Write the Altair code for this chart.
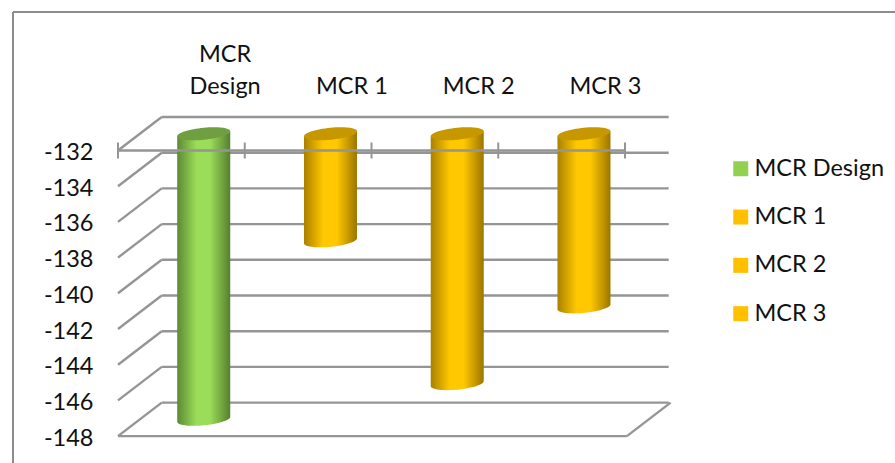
import math
import altair as alt
import pandas as pd

# Chart values
categories = ["MCR Design", "MCR 1", "MCR 2", "MCR 3"]
values = [-148.0, -138.0, -146.0, -141.7]
tick_values = [-132, -134, -136, -138, -140, -142, -144, -146, -148]

# Colours
GRID = "#959595"
GREEN = "#92D050"
AMBER = "#FFC000"
INK = "#111111"
FONT = "Lato"
SIZE = 23.5
LINE = 2.4

W, H = 895, 463
# Pixel scale of the oblique projection
PX_X = 126.75   # one category slot
PX_Y = 17.85    # one value unit
X0, Y0 = 118.0, 150.5  # front corner at the top of the value axis
DX = 43.7 / PX_X       # depth of the box in x units
DY = 33.5 / PX_Y       # depth of the box in y units
TOP = -132

x_scale = alt.Scale(domain=[-X0 / PX_X, (W - X0) / PX_X], nice=False, zero=False)
y_scale = alt.Scale(domain=[TOP - (H - Y0) / PX_Y, TOP + Y0 / PX_Y], nice=False, zero=False)
X = alt.X("x:Q", scale=x_scale, axis=None)
# Value axis: labels only, pulled inside the full-size view
Y = alt.Y("y:Q", scale=y_scale, axis=alt.Axis(
    values=tick_values, offset=-X0, domain=False, ticks=False, grid=False, title=None,
    labelFont=FONT, labelFontSize=SIZE, labelColor=INK, labelPadding=25,
    labelBaseline="middle", labelOffset=2, labelExpr="'-' + abs(datum.value)",
))


def hgrad(edge_l, mid, edge_r):
    return alt.Gradient(
        gradient="linear", x1=0, x2=1, y1=0, y2=0,
        stops=[
            alt.GradientStop(offset=0, color=edge_l),
            alt.GradientStop(offset=0.36, color=mid),
            alt.GradientStop(offset=0.62, color=mid),
            alt.GradientStop(offset=1, color=edge_r),
        ],
    )


# Back wall gridlines, the diagonal floor lines and the front floor edge
back = pd.DataFrame({"y": tick_values, "x": DX, "x2": 4.0 + DX})
back["y"] = back["y"] + DY
walls = alt.Chart(back).mark_rule(color=GRID, strokeWidth=LINE).encode(x=X, x2="x2:Q", y=Y)

diag = pd.DataFrame({"x": 0.0, "x2": DX, "y": tick_values})
diag["y2"] = diag["y"] + DY
diagonals = alt.Chart(diag).mark_rule(color=GRID, strokeWidth=LINE).encode(x=X, x2="x2:Q", y=Y, y2="y2:Q")

floor_edge = alt.Chart(pd.DataFrame({
    "x": [0.0, 4.015], "x2": [4.015, 4.015 + DX], "y": [-148.0, -148.0], "y2": [-148.0, -148.0 + DY],
})).mark_rule(color=GRID, strokeWidth=LINE).encode(x=X, x2="x2:Q", y=Y, y2="y2:Q")

# Cylinders: straight body with a rounded lower rim, capped by a sheared ellipse
RX = 26.5 / PX_X
RIM_B = 6.0 / PX_Y
RIM_S = 2.5 / PX_Y
NUDGE = 0.5 / PX_X
STEPS = 24
rows = []
for i, (name, v) in enumerate(zip(categories, values)):
    cx = i + 0.5 + DX / 2 + NUDGE
    top_c = TOP + DY / 2
    low_c = v + DY / 2
    for k in range(STEPS + 1):
        t = math.pi * k / STEPS
        c, s = math.cos(t), math.sin(t)
        rows.append({
            "name": name,
            "x": cx - RX * c,
            "y": top_c - RIM_S * c,
            "y2": low_c - RIM_S * c - RIM_B * s,
        })
body = pd.DataFrame(rows)


def cylinder(names, fill):
    return (
        alt.Chart(body[body["name"].isin(names)])
        .mark_area(color=fill, interpolate="linear", orient="vertical")
        .encode(x=X, y=Y, y2="y2:Q", detail="name:N")
    )


body_green = cylinder(["MCR Design"], hgrad("#5c8a33", "#9bdc58", "#567f30"))
body_amber = cylinder(["MCR 1", "MCR 2", "MCR 3"], hgrad("#aa8000", "#ffc800", "#9c7500"))


def ellipse_path(b, s):
    # Sheared ellipse in the unit square, as four cubic segments
    k = 0.5523
    pts = lambda c, d: (c, b * d - s * c)
    seq = [
        ((1, k), (k, 1), (0, 1)),
        ((-k, 1), (-1, k), (-1, 0)),
        ((-1, -k), (-k, -1), (0, -1)),
        ((k, -1), (1, -k), (1, 0)),
    ]
    x0, y0 = pts(1, 0)
    out = f"M{x0:.4f} {y0:.4f}"
    for seg in seq:
        out += "C" + " ".join(f"{pts(*p)[0]:.4f} {pts(*p)[1]:.4f}" for p in seg)
    return out + "Z"


CAP = ellipse_path(6.0 / 26.5, 2.5 / 26.5)
caps_df = pd.DataFrame({
    "name": categories,
    "x": [i + 0.5 + DX / 2 + NUDGE for i in range(4)],
    "y": [TOP + DY / 2] * 4,
    "fill": ["#6f9f40", "#c79700", "#c79700", "#c79700"],
})
caps = alt.Chart(caps_df).mark_point(filled=True, shape=CAP, size=53 ** 2, opacity=1, strokeWidth=0).encode(
    x=X, y=Y, fill=alt.Fill("fill:N", scale=None, legend=None)
)

# Category axis line with its tick marks, drawn over the cylinders
axis_line = alt.Chart(pd.DataFrame({"x": [0.0], "x2": [4.0], "y": [TOP]})).mark_rule(
    color=GRID, strokeWidth=2.5
).encode(x=X, x2="x2:Q", y=Y)
ticks_df = pd.DataFrame({"x": [0, 1, 2, 3, 4], "y": [TOP + 0.45] * 5, "y2": [TOP - 0.45] * 5})
ticks = alt.Chart(ticks_df).mark_rule(color=GRID, strokeWidth=2).encode(x=X, y=Y, y2="y2:Q")


# Category labels along the top, set back by the box depth
def label_row(rows_x, rows_text, baseline_y):
    return alt.Chart(pd.DataFrame({"x": rows_x, "label": rows_text})).mark_text(
        font=FONT, fontSize=SIZE, color=INK, align="center", baseline="bottom",
    ).encode(x=X, y=alt.value(baseline_y), text="label:N")


label_xs = [i + 0.5 + DX for i in range(4)]
labels_low = label_row(label_xs, ["Design", "MCR 1", "MCR 2", "MCR 3"], 99)
labels_high = label_row(label_xs[:1], ["MCR"], 67)

# Legend
legend_df = pd.DataFrame({"name": categories, "x": [0.0] * 4, "y": [TOP] * 4})
legend_layer = alt.Chart(legend_df).mark_point(filled=True, size=0, opacity=1).encode(
    x=X, y=Y,
    color=alt.Color("name:N", scale=alt.Scale(domain=categories, range=[GREEN, AMBER, AMBER, AMBER]),
                    sort=categories,
                    legend=alt.Legend(
                        orient="none", legendX=729, legendY=157, title=None,
                        symbolType="square", symbolSize=225, symbolStrokeWidth=0, symbolOpacity=1,
                        labelFont=FONT, labelFontSize=SIZE, labelColor=INK,
                        labelOffset=2, rowPadding=23.3, labelLimit=200,
                    )),
)

# Chart frame: top and left edges
frame_top = alt.Chart(pd.DataFrame({"v": [1]})).mark_rule(color="#8c8c8c", strokeWidth=2).encode(
    x=alt.value(13), x2=alt.value(W), y=alt.value(12)
)
frame_left = alt.Chart(pd.DataFrame({"v": [1]})).mark_rule(color="#8c8c8c", strokeWidth=2).encode(
    x=alt.value(13), y=alt.value(12), y2=alt.value(H)
)

chart = (
    alt.layer(frame_top, frame_left, walls, diagonals, floor_edge, body_green, body_amber, caps,
              axis_line, ticks, labels_low, labels_high, legend_layer)
    .resolve_scale(fill="independent", color="independent")
    .properties(width=W, height=H, padding=0, autosize=alt.AutoSizeParams(type="none"),
                background="white")
    .configure_view(stroke=None)
)

chart.save("out.html", embed_options={"renderer": "svg", "actions": False})
